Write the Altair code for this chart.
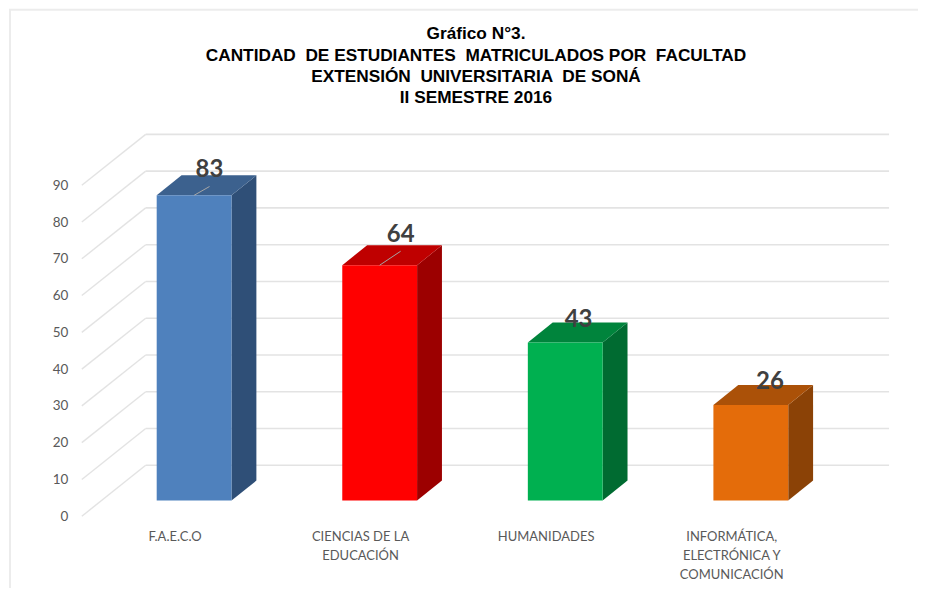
import altair as alt
import pandas as pd

# --- chart values ---
categories = [["F.A.E.C.O"],
              ["CIENCIAS DE LA", "EDUCACIÓN"],
              ["HUMANIDADES"],
              ["INFORMÁTICA,", "ELECTRÓNICA Y", "COMUNICACIÓN"]]
values = [83, 64, 43, 26]
y_ticks = [0, 10, 20, 30, 40, 50, 60, 70, 80, 90]
title_lines = ["Gráfico N°3.",
               "CANTIDAD \u00a0DE ESTUDIANTES \u00a0MATRICULADOS POR \u00a0FACULTAD",
               "EXTENSIÓN \u00a0UNIVERSITARIA \u00a0DE SONÁ",
               "II SEMESTRE 2016"]

front_colors = ["#4f81bd", "#ff0000", "#00b050", "#e46c0a"]
top_colors = ["#3c618e", "#bf0000", "#00843c", "#ab5108"]
side_colors = ["#2f4f77", "#9c0000", "#006b31", "#8b4206"]

# --- layout of the fake 3-D box (in scale units) ---
PLOT_W, PLOT_H = 809, 382.7
X_DOM = [-0.605, 3.745]          # 1 unit = distance between categories
WALL_DY = 13.84                  # height shift of back wall
WALL_DX = 0.344
Y_DOM = [0, 90 + WALL_DY]
BAR_FRONT = 4.26                 # floor shift of bar's front face
BAR_BACK = 9.69                  # floor shift of bar's back face
BAR_HALF = 0.2016
BAR_DX = 0.134
label_shift_x = [0.083, 0.113, 0.072, 0.103]
label_shift_y = [6.8, 8.2, 6.15, 6.3]
leader_bars = [0, 1]

x_scale = alt.Scale(domain=X_DOM, nice=False, zero=False)
y_scale = alt.Scale(domain=Y_DOM, nice=False, zero=False)
GRID = "#e3e3e3"
FONT = "Lato"
y_axis = alt.Axis(values=y_ticks, domain=False, ticks=False, grid=False,
                  labelFont=FONT, labelFontSize=13.5, labelColor="#595959",
                  labelPadding=14, title=None)
X = lambda f: alt.X(f, type="quantitative", scale=x_scale, axis=None)
Y = lambda f: alt.Y(f, type="quantitative", scale=y_scale, axis=y_axis, stack=None)

# --- tables ---
walls = pd.DataFrame({"v": y_ticks})
walls["x0"] = X_DOM[0]
walls["x1"] = X_DOM[0] + WALL_DX
walls["x2"] = X_DOM[1]
walls["yb"] = walls["v"] + WALL_DY

fronts, sides, tops, labels, leaders, cat_rows = [], [], [], [], [], []
for i, v in enumerate(values):
    l, r = i - BAR_HALF, i + BAR_HALF
    t = v + BAR_FRONT
    d = BAR_BACK - BAR_FRONT
    fronts.append(dict(x=l, x2=r, y=t, y2=BAR_FRONT, c=front_colors[i]))
    sides += [dict(b=i, x=r, y=t, y2=BAR_FRONT, c=side_colors[i]),
              dict(b=i, x=r + BAR_DX, y=t + d, y2=BAR_FRONT + d, c=side_colors[i])]
    tops += [dict(b=i, x=l, y=t, y2=t, c=top_colors[i]),
             dict(b=i, x=l + BAR_DX, y=t + d, y2=t, c=top_colors[i]),
             dict(b=i, x=r, y=t + d, y2=t, c=top_colors[i]),
             dict(b=i, x=r + BAR_DX, y=t + d, y2=t + d, c=top_colors[i])]
    lx, ly = i + label_shift_x[i], t + label_shift_y[i]
    labels.append(dict(x=lx, y=ly, t=v))
    if i in leader_bars:
        leaders.append(dict(x=i, y=t, x2=lx, y2=ly - 4.4))
    for j, line in enumerate(categories[i]):
        cat_rows.append(dict(x=i - 0.103, y=-5.6 - 5.25 * j, t=line))

fronts, sides, tops = map(pd.DataFrame, (fronts, sides, tops))
labels, leaders, cat_rows = map(pd.DataFrame, (labels, leaders, cat_rows))

axis_layer = alt.Chart(walls).mark_rule(color=GRID, strokeWidth=1.4).encode(
    x=X("x0"), x2="x1", y=Y("v"), y2="yb")
back_grid = alt.Chart(walls).mark_rule(color=GRID, strokeWidth=1.6).encode(
    x=X("x1"), x2="x2", y=Y("yb"))
side_layer = alt.Chart(sides).mark_area(interpolate="linear").encode(
    x=X("x"), y=Y("y"), y2="y2", detail="b:N", color=alt.Color("c:N", scale=None))
top_layer = alt.Chart(tops).mark_area(interpolate="linear").encode(
    x=X("x"), y=Y("y"), y2="y2", detail="b:N", color=alt.Color("c:N", scale=None))
front_layer = alt.Chart(fronts).mark_rect().encode(
    x=X("x"), x2="x2", y=Y("y"), y2="y2", color=alt.Color("c:N", scale=None))
leader_layer = alt.Chart(leaders).mark_rule(color="#a6a6a6", strokeWidth=1).encode(
    x=X("x"), x2="x2", y=Y("y"), y2="y2")
label_layer = alt.Chart(labels).mark_text(
    font=FONT, fontSize=24, fontWeight="bold", color="#404040", baseline="middle").encode(
    x=X("x"), y=Y("y"), text="t:N")
cat_layer = alt.Chart(cat_rows).mark_text(
    font=FONT, fontSize=13, color="#595959", baseline="middle", align="center").encode(
    x=X("x"), y=Y("y"), text="t:N")

frame_left = alt.Chart(pd.DataFrame({"a": [0]})).mark_rule(color="#ececec", strokeWidth=2).encode(
    x=alt.value(-72), y=alt.value(-125), y2=alt.value(PLOT_H + 72))
frame_top = alt.Chart(pd.DataFrame({"a": [0]})).mark_rule(color="#ececec", strokeWidth=2).encode(
    x=alt.value(-73), x2=alt.value(838), y=alt.value(-125))

chart = alt.layer(
    axis_layer, frame_left, frame_top, back_grid, side_layer, top_layer, front_layer,
    leader_layer, label_layer, cat_layer,
).properties(
    width=PLOT_W, height=PLOT_H,
    padding=0,
    autosize=alt.AutoSizeParams(type="pad"),
    background="white",
    title=alt.TitleParams(
        text=title_lines, font="Liberation Sans", fontSize=17.3, fontWeight="bold",
        color="#000000", anchor="middle", dx=-9.5, offset=-98, lineHeight=21.3,
    ),
).configure_view(stroke=None)

chart.save("out.html", embed_options={"renderer": "svg", "actions": False})
